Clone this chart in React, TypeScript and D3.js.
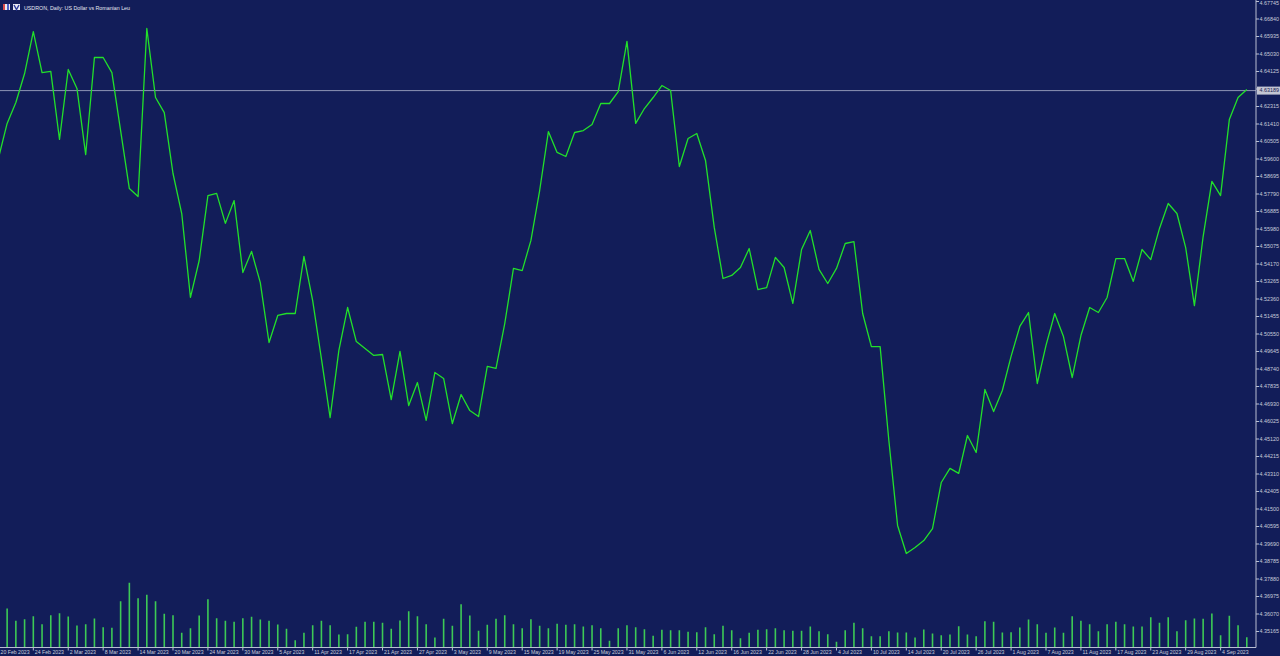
import React from 'react';
import * as d3 from 'd3';

const TITLE = 'USDRON, Daily:  US Dollar vs Romanian Leu';
const LAST_PRICE = 4.63189;

const CLOSE = [
  4.5963, 4.6144, 4.6252, 4.6402, 4.6619, 4.6407, 4.6413, 4.6061, 4.6423, 4.6325,
  4.5983, 4.6485, 4.6485, 4.6407, 4.6107, 4.5807, 4.5766, 4.6635, 4.6278, 4.6200,
  4.5885, 4.5678, 4.5244, 4.5435, 4.5771, 4.5782, 4.5627, 4.5745, 4.5373, 4.5482,
  4.5321, 4.5011, 4.5151, 4.5161, 4.5161, 4.5456, 4.5228, 4.4928, 4.4623, 4.4970,
  4.5192, 4.5016, 4.4980, 4.4944, 4.4949, 4.4716, 4.4965, 4.4685, 4.4804, 4.4608,
  4.4856, 4.4825, 4.4592, 4.4742, 4.4659, 4.4628, 4.4887, 4.4877, 4.5109, 4.5394,
  4.5383, 4.5539, 4.5797, 4.6102, 4.5994, 4.5973, 4.6097, 4.6107, 4.6138, 4.6247,
  4.6247, 4.6309, 4.6568, 4.6144, 4.6221, 4.6278, 4.6340, 4.6314, 4.5921, 4.6066,
  4.6092, 4.5952, 4.5606, 4.5342, 4.5358, 4.5399, 4.5497, 4.5285, 4.5295, 4.5451,
  4.5399, 4.5213, 4.5492, 4.5590, 4.5389, 4.5316, 4.5394, 4.5523, 4.5533, 4.5161,
  4.4990, 4.4990, 4.4504, 4.4065, 4.3920, 4.3951, 4.3987, 4.4049, 4.4287, 4.4360,
  4.4334, 4.4530, 4.4442, 4.4768, 4.4654, 4.4763, 4.4939, 4.5094, 4.5166, 4.4799,
  4.4996, 4.5161, 4.5042, 4.4830, 4.5047, 4.5192, 4.5166, 4.5244, 4.5445, 4.5445,
  4.5327, 4.5492, 4.5440, 4.5601, 4.5730, 4.5678, 4.5502, 4.5202, 4.5559, 4.5844,
  4.5771, 4.6164, 4.6278, 4.63189,
];

const VOLUME = [
  75, 117, 80, 85, 94, 70, 97, 103, 93, 66, 70, 87, 61, 59, 139, 194, 148, 158, 139, 101,
  97, 44, 58, 96, 145, 88, 80, 77, 88, 92, 84, 80, 69, 56, 22, 44, 67, 80, 67, 39,
  40, 62, 77, 77, 74, 56, 81, 109, 94, 70, 30, 86, 65, 130, 96, 50, 68, 86, 97, 70,
  58, 85, 65, 58, 71, 68, 70, 63, 67, 58, 20, 58, 67, 61, 55, 35, 53, 52, 52, 47,
  46, 61, 40, 65, 52, 28, 44, 53, 55, 58, 52, 50, 50, 63, 49, 40, 17, 52, 74, 58,
  34, 34, 49, 45, 45, 30, 54, 42, 37, 39, 64, 39, 34, 79, 77, 45, 46, 60, 84, 70,
  44, 60, 44, 94, 80, 70, 49, 70, 77, 70, 63, 63, 91, 74, 91, 49, 82, 87, 86, 102,
  37, 95, 67, 31,
];

const PRICE_TICKS = [
  4.67745, 4.6684, 4.65935, 4.6503, 4.64125, 4.6322, 4.62315, 4.6141, 4.60505, 4.596,
  4.58695, 4.5779, 4.56885, 4.5598, 4.55075, 4.5417, 4.53265, 4.5236, 4.51455, 4.5055,
  4.49645, 4.4874, 4.47835, 4.4693, 4.46025, 4.4512, 4.44215, 4.4331, 4.42405, 4.415,
  4.40595, 4.3969, 4.38785, 4.3788, 4.36975, 4.3607, 4.35165,
];

const DATE_LABELS = [
  '20 Feb 2023', '24 Feb 2023', '2 Mar 2023', '8 Mar 2023', '14 Mar 2023', '20 Mar 2023',
  '24 Mar 2023', '30 Mar 2023', '5 Apr 2023', '11 Apr 2023', '17 Apr 2023', '21 Apr 2023',
  '27 Apr 2023', '3 May 2023', '9 May 2023', '15 May 2023', '19 May 2023', '25 May 2023',
  '31 May 2023', '6 Jun 2023', '12 Jun 2023', '16 Jun 2023', '22 Jun 2023', '28 Jun 2023',
  '4 Jul 2023', '10 Jul 2023', '14 Jul 2023', '20 Jul 2023', '26 Jul 2023', '1 Aug 2023',
  '7 Aug 2023', '11 Aug 2023', '17 Aug 2023', '23 Aug 2023', '29 Aug 2023', '4 Sep 2023',
];
const LABEL_STEP = 4;

const BG = '#121d59';
const AXIS = '#b9bed2';
const TXT = '#c9ccda';
const LINE = '#22e02a';
const VOL = '#3dc956';
const FONT = '"Liberation Sans", Arial, sans-serif';

export default function App() {
  const W = 1280;
  const H = 656;
  const axisX = 1256;
  const axisY = 647.5;

  const n = CLOSE.length;
  const x = d3.scaleLinear().domain([0, n - 1]).range([-1.6, -1.6 + 8.73 * (n - 1)]);
  const y = d3.scaleLinear().domain([4.67745, 4.35165]).range([1.5, 631.5]);
  const v = d3.scaleLinear().domain([0, 200]).range([axisY, axisY - 66.7]);

  const path = d3
    .line<number>()
    .x((_, i) => x(i))
    .y((d) => y(d))(CLOSE) as string;

  const py = y(LAST_PRICE) + 1;

  return (
    <svg
      width={W}
      height={H}
      style={{ position: 'fixed', left: 0, top: 0, display: 'block' }}
      fontFamily={FONT}
    >
      <defs>
        <clipPath id="plot">
          <rect x={0} y={0} width={axisX} height={axisY} />
        </clipPath>
      </defs>
      <rect x={0} y={0} width={W} height={H} fill={BG} />

      {/* volumes */}
      <g clipPath="url(#plot)">
        {VOLUME.map((d, i) => (
          <line
            key={'v' + i}
            x1={x(i)}
            x2={x(i)}
            y1={axisY}
            y2={v(d)}
            stroke={VOL}
            strokeWidth={1.6}
          />
        ))}
      </g>

      {/* current price line */}
      <line x1={0} x2={axisX} y1={py} y2={py} stroke="#8e94b6" strokeWidth={1} />

      {/* close line */}
      <g clipPath="url(#plot)">
        <path d={path} fill="none" stroke={LINE} strokeWidth={1.3} strokeLinejoin="round" />
      </g>

      {/* axes */}
      <line x1={axisX} x2={axisX} y1={0} y2={axisY} stroke={AXIS} strokeWidth={1} />
      <line x1={0} x2={axisX} y1={axisY} y2={axisY} stroke={AXIS} strokeWidth={1} />

      {PRICE_TICKS.map((t) => (
        <g key={'p' + t}>
          <line x1={axisX} x2={axisX + 3} y1={y(t)} y2={y(t)} stroke={AXIS} strokeWidth={1} />
          <text x={axisX + 3.5} y={Math.max(y(t), 3.2)} dy="0.35em" fontSize={5.4} fill={TXT}>
            {t.toFixed(5)}
          </text>
        </g>
      ))}

      {/* price label */}
      <rect x={axisX + 1} y={py - 4} width={W - axisX - 1} height={8} fill="#c3c6d3" />
      <text x={axisX + 3.5} y={py} dy="0.35em" fontSize={5.4} fill="#1a2050">
        {LAST_PRICE.toFixed(5)}
      </text>

      {DATE_LABELS.map((lab, k) => {
        const xi = x(k * LABEL_STEP);
        return (
          <g key={'d' + k}>
            <line x1={xi} x2={xi} y1={axisY} y2={axisY + 3} stroke={AXIS} strokeWidth={1} />
            <text x={Math.max(xi + 1.5, 0.5)} y={654} fontSize={5.2} fill={TXT}>
              {lab}
            </text>
          </g>
        );
      })}

      {/* title */}
      <g>
        <rect x={3} y={4} width={7} height={6} fill="#e8e8f0" />
        <rect x={3} y={4} width={2} height={6} fill="#d84a4a" />
        <rect x={7} y={4} width={2} height={6} fill="#4a62c8" />
        <rect x={13} y={4} width={7} height={6} fill="#e8e8f0" />
        <path d="M14,5 L16.5,9.5 L19,5" fill="none" stroke="#2a3a9a" strokeWidth={1.4} />
        <text x={24} y={9.8} fontSize={5.3} fill="#e6e8f2">
          {TITLE}
        </text>
      </g>
    </svg>
  );
}
